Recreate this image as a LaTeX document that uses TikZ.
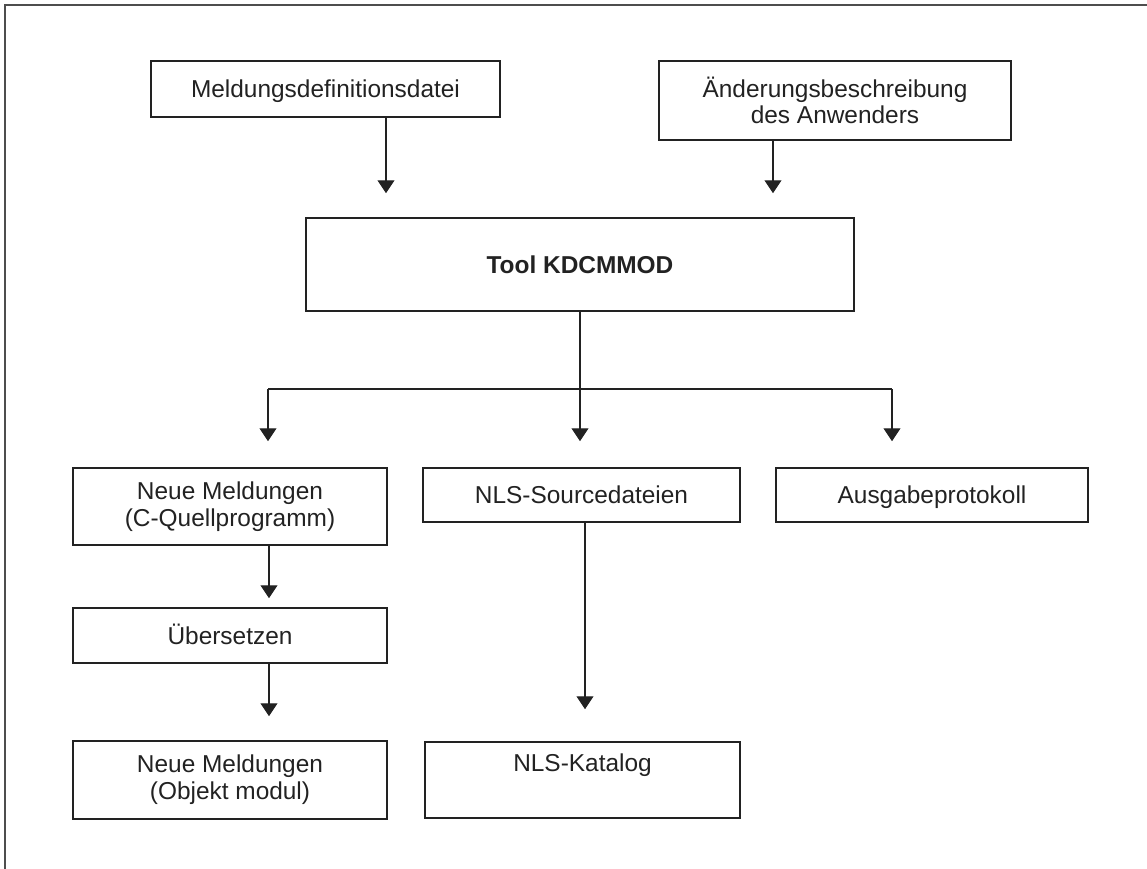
\documentclass[tikz,border=0pt]{standalone}
\usepackage{fontspec}
\setmainfont{Liberation Sans}
\usepackage{tikz}
\usetikzlibrary{arrows.meta, positioning}
\definecolor{ink}{HTML}{222222}

\begin{document}
\begin{tikzpicture}[
    box/.style={draw=ink, line width=0.85pt, minimum width=#1, align=center, inner sep=0pt, font=\fontsize{13.9pt}{15.2pt}\selectfont, text=ink},
    oneline/.style={text height=0.35cm, text depth=0pt},
    arrow/.style={-{Triangle[length=0.26cm, width=0.34cm]}, line width=0.7pt, color=ink, shorten >=#1},
    arrow/.default=0.48cm,
    link/.style={line width=0.7pt, color=ink},
    frame/.style={line width=1.2pt, color=ink!80}
]
\useasboundingbox (0,0) rectangle (22.94,-17.38);
\draw[frame] (0.10,-17.38) -- (0.10,-0.10) -- (22.94,-0.10);

\node[box=6.98cm, oneline, minimum height=1.12cm] (meld) at (6.51, -1.78) {Meldungsdefinitionsdatei};
\node[box=7.04cm, minimum height=1.58cm] (aend) at (16.70, -2.01) {Änderungsbeschreibung\\des Anwenders};
\node[box=10.96cm, oneline, minimum height=1.86cm, font=\fontsize{13.9pt}{15.2pt}\selectfont\bfseries] (tool) at (11.60, -5.29) {Tool KDCMMOD};
\node[box=6.28cm, minimum height=1.54cm] (neu1) at (4.60, -10.13) {Neue Meldungen\\(C-Quellprogramm)};
\node[box=6.34cm, oneline, minimum height=1.08cm] (nlssrc) at (11.63, -9.90) {NLS-Sourcedateien};
\node[box=6.24cm, oneline, minimum height=1.08cm] (ausg) at (18.64, -9.90) {Ausgabeprotokoll};
\node[box=6.28cm, oneline, minimum height=1.10cm] (uebers) at (4.60, -12.71) {Übersetzen};
\node[box=6.28cm, minimum height=1.56cm] (neu2) at (4.60, -15.60) {Neue Meldungen\\(Objekt modul)};
\node[box=6.30cm, minimum height=1.52cm] (nlskat) at (11.65, -15.60) {NLS-Katalog\\\strut};

\coordinate (inL) at (7.72, -4.00);
\coordinate (inR) at (15.46, -4.00);
\coordinate (forkL) at (5.36, -7.78);
\coordinate (forkM) at (11.60, -7.78);
\coordinate (forkR) at (17.84, -7.78);
\coordinate (down) at (5.38, -12.00);
\coordinate (kat) at (11.70, -13.00);

\draw[arrow] (meld.south -| inL) -- (tool.north -| inL);
\draw[arrow] (aend.south -| inR) -- (tool.north -| inR);
\draw[link] (tool.south) -- (forkM);
\draw[link] (forkL) -- (forkR);
\draw[arrow=0.52cm] (forkL) -- (neu1.north -| forkL);
\draw[arrow=0.52cm] (forkM) -- (nlssrc.north -| forkM);
\draw[arrow=0.52cm] (forkR) -- (ausg.north -| forkR);
\draw[arrow=0.18cm] (neu1.south -| down) -- (uebers.north -| down);
\draw[arrow] (uebers.south -| down) -- (neu2.north -| down);
\draw[arrow=0.64cm] (nlssrc.south -| kat) -- (nlskat.north -| kat);
\end{tikzpicture}
\end{document}
